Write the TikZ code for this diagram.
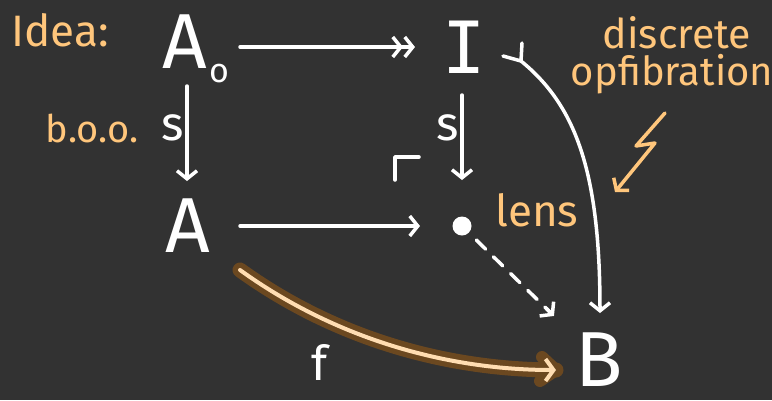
\documentclass[tikz,border=0pt]{standalone}
\usepackage{fontspec}
\setmainfont{Fira Sans}
\newfontfamily\monoI{DejaVu Sans Mono}
\usetikzlibrary{arrows.meta}
\definecolor{bg}{HTML}{323232}
\definecolor{org}{HTML}{FFC67C}
\definecolor{halo}{HTML}{6B4820}
\definecolor{fin}{HTML}{FFDDB2}
\begin{document}
\begin{tikzpicture}[x=1pt,y=-1pt,line cap=round,line join=round,
  wl/.style={draw=white,line width=3.5pt},
  barb/.style={-{Straight Barb[length=8pt,width=20pt]}},
  dbarb/.style={-{Straight Barb[length=8pt,width=20pt]Straight Barb[length=8pt,width=20pt]}},
  bigtxt/.style={text=white,font=\fontsize{78}{78}\selectfont,inner sep=0pt},
  lbl/.style={text=white,font=\fontsize{48}{48}\selectfont,inner sep=0pt},
  otxt/.style={text=org,inner sep=0pt}]
\fill[bg] (0,0) rectangle (772,400);
\useasboundingbox (0,0) rectangle (772,400);
% objects
\node[bigtxt] (A0) at (185,42) {A};
\node[text=white,font=\fontsize{34}{34}\selectfont,inner sep=0pt] (sub) at (219,74) {o};
\node[bigtxt,font=\monoI\fontsize{72}{72}\selectfont] (I) at (464,47) {I};
\node[bigtxt] (A) at (188,226) {A};
\node[circle,fill=white,minimum size=19pt,inner sep=0pt] (P) at (462,226) {};
\node[bigtxt] (B) at (599,360) {B};
% labels
\node[otxt,font=\fontsize{44}{44}\selectfont] (idea) at (60,30) {Idea:};
\node[otxt,font=\fontsize{38}{38}\selectfont] (boo) at (92,128) {b.o.o.};
\node[lbl] (s1) at (173,128) {s};
\node[lbl] (s2) at (448,128) {s};
\node[lbl] (f) at (320,362) {f};
\node[otxt,font=\fontsize{44}{44}\selectfont] (lens) at (537,210) {lens};
\node[otxt,font=\fontsize{41}{41}\selectfont] (disc) at (677,33) {discrete};
\node[otxt,font=\fontsize{40}{40}\selectfont] (opf) at (672,74) {opfibration};
% arrows
\draw[wl,dbarb,shorten <=55pt,shorten >=49pt] (A0.center |- I.center) -- (I.center);
\draw[wl,barb,shorten <=44pt,shorten >=45pt] ([xshift=2pt]A0.center) -- ([xshift=2pt]A0.center |- A.center);
\draw[wl,barb,shorten <=48pt,shorten >=46pt] (P.center |- I.center) -- (P.center);
\draw[wl,barb,shorten <=52pt,shorten >=42pt] (A.center) -- (P.center);
\draw[wl,dash pattern=on 13pt off 11pt,shorten <=20pt,shorten >=66pt] (P.center) -- (B.center);
\draw[wl,solid,barb,shorten <=118pt,shorten >=63pt] (P.center) -- (B.center);
% pullback corner
\draw[wl] (395,180) -- (395,157) -- (419,157);
% mono I -> B
\coordinate (ts) at (521,61);
\coordinate (te) at (600,313);
\draw[wl,barb] (ts) .. controls (575,105) and (600,170) .. (te);
\draw[wl] (503,56) -- (ts) -- (522,43);
% f
\coordinate (fs) at (240,270);
\coordinate (fe) at (556,370);
\draw[draw=halo,line width=15pt] (fs) .. controls (330,335) and (440,370) .. (fe);
\draw[draw=halo,line width=12pt] (542,357) -- (fe) -- (540,381);
\draw[draw=fin,line width=4pt,-{Straight Barb[length=8pt,width=22pt]}] (fs) .. controls (330,335) and (440,370) .. (fe);
% lightning
\coordinate (z0) at (665,113);
\coordinate (z1) at (636,146);
\coordinate (z2) at (655,143);
\coordinate (z3) at (615,192);
\draw[draw=org,line width=3.5pt,barb] (z0) -- (z1) -- (z2) -- (z3);
\end{tikzpicture}
\end{document}
